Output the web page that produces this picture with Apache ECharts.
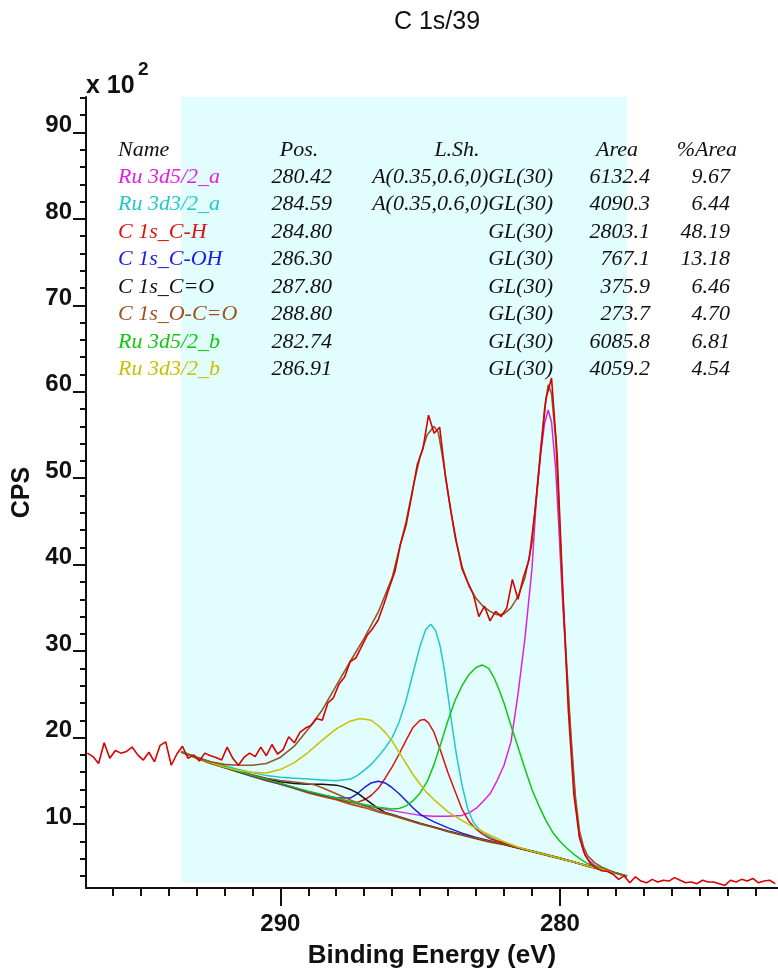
<!DOCTYPE html>
<html>
<head>
<meta charset="utf-8">
<title>C 1s/39</title>
<script src="https://cdn.jsdelivr.net/npm/echarts@6/dist/echarts.min.js"></script>
<style>
  html, body { margin: 0; padding: 0; background: #fff; }
  #chart { width: 778px; height: 975px; }
</style>
</head>
<body>
<div id="chart"></div>
<script>
// raw counts (x 10^2), regular energy grid from 296.9 eV going down
const rawStart = 296.9;
const rawStep = 0.2;
const rawCps = [
  18.2, 17.8, 17.0, 19.4, 17.6, 18.5, 18.2, 18.4, 18.9, 18.0,
  17.4, 18.3, 17.2, 19.1, 19.5, 16.8, 18.1, 19.0, 17.6, 18.0,
  17.3, 18.2, 17.9, 17.7, 17.4, 18.9, 17.6, 16.8, 17.7, 18.2,
  17.8, 18.9, 17.9, 19.2, 18.1, 18.6, 20.1, 19.4, 20.6, 21.1,
  21.4, 22.2, 22.0, 24.0, 24.6, 26.2, 27.0, 28.8, 29.2, 30.5,
  31.8, 32.6, 33.6, 35.4, 37.4, 39.2, 42.4, 44.6, 48.0, 51.6,
  53.4, 57.3, 55.2, 55.9, 50.4, 46.2, 42.6, 39.5, 38.0, 36.6,
  34.0, 35.2, 33.5, 34.6, 34.0, 35.0, 38.3, 36.0, 38.6, 40.6,
  46.0, 52.6, 59.2, 61.6, 52.8, 37.4, 23.2, 13.4, 8.4, 6.4,
  5.4, 4.9, 4.6, 4.5, 4.2, 3.6, 4.0, 3.2, 3.9, 3.4,
  3.2, 3.6, 3.3, 3.5, 3.4, 3.8, 3.5, 3.2, 3.3, 3.1,
  3.5, 3.3, 3.3, 3.1, 2.9, 3.5, 3.3, 3.6, 3.4, 3.7,
  3.2, 3.4, 3.5, 3.1
];

// fitted curves, [binding energy, cps x 10^2]
const background = [[293.55,18.3],[293,17.6],[292.5,17.0],[292,16.5],[291.5,16.0],[291,15.5],[290.5,15.0],[290,14.6],[289.5,14.1],[289,13.6],[288.5,13.2],[288,12.8],[287.5,12.3],[287,11.9],[286.5,11.4],[286,11.0],[285.5,10.5],[285,10.0],[284.5,9.6],[284,9.1],[283.5,8.7],[283,8.3],[282.5,7.9],[282,7.6],[281.5,7.2],[281,6.8],[280.5,6.4],[280,6.0],[279.5,5.6],[279,5.1],[278.5,4.7],[278,4.3],[277.6,3.9]];

const ru3d52a = [[293.55,18.35],[292,16.55],[291,15.55],[290,14.65],[289,13.7],[288,12.95],[287,12.15],[286,11.55],[285,11.0],[284.5,10.9],[284,10.9],[283.5,11.0],[283.25,11.3],[283,11.8],[282.75,12.6],[282.5,13.5],[282.25,15.0],[282,16.8],[281.75,19.5],[281.5,25.0],[281.25,31.5],[281,39.5],[280.85,47.2],[280.7,52.5],[280.55,56.3],[280.42,57.9],[280.3,56.5],[280.15,51.0],[280.05,45.0],[279.9,35.5],[279.75,27.5],[279.6,19.5],[279.45,12.8],[279.3,8.6],[279.15,6.8],[279,5.9],[278.75,5.2],[278.5,4.8],[278,4.35],[277.6,3.95]];

const ru3d32a = [[293.55,18.4],[292.5,17.2],[291.5,16.3],[290.5,15.6],[290,15.4],[289.5,15.3],[289,15.2],[288.5,15.1],[288,15.0],[287.5,15.2],[287.25,15.6],[287,16.2],[286.75,16.9],[286.5,17.8],[286.25,18.8],[286,20.0],[285.75,21.8],[285.5,24.3],[285.25,27.5],[285,30.6],[284.8,32.5],[284.62,33.1],[284.45,32.4],[284.3,30.8],[284.15,28.2],[284,24.8],[283.85,21.2],[283.7,18.0],[283.5,14.5],[283.3,11.8],[283.1,10.2],[282.9,9.4],[282.6,8.7],[282.2,8.0],[281.5,7.3],[281,6.9],[280,6.1],[279,5.15],[278,4.35],[277.6,3.95]];

const c1sCH = [[293.55,18.35],[292,16.55],[291,15.55],[290,14.65],[289,13.7],[288,12.9],[287.5,12.5],[287.25,12.5],[287,12.8],[286.75,13.3],[286.5,14.1],[286.25,15.3],[286,16.6],[285.75,18.1],[285.5,19.7],[285.25,21.2],[285,22.0],[284.85,22.1],[284.7,21.7],[284.5,20.6],[284.25,18.3],[284,15.9],[283.75,13.8],[283.5,11.7],[283.25,10.3],[283,9.4],[282.75,8.8],[282.5,8.3],[282,7.8],[281.5,7.3],[281,6.85],[280,6.05],[279,5.15],[278,4.35],[277.6,3.95]];

const c1sCOH = [[293.55,18.35],[292,16.55],[291,15.55],[290,14.65],[289,13.75],[288.5,13.35],[288,13.05],[287.5,13.0],[287.25,13.5],[287,14.2],[286.75,14.75],[286.5,14.95],[286.25,14.75],[286,14.2],[285.75,13.5],[285.5,12.7],[285.25,11.85],[285,11.15],[284.75,10.65],[284.5,10.25],[284,9.55],[283.5,8.95],[283,8.45],[282,7.65],[281,6.85],[280,6.05],[279,5.15],[278,4.35],[277.6,3.95]];

const c1sCO = [[293.55,18.35],[292.5,17.1],[291.5,16.1],[290.5,15.2],[290,14.9],[289.5,14.7],[289,14.6],[288.5,14.6],[288,14.5],[287.75,14.3],[287.5,14.0],[287.25,13.6],[287,13.0],[286.75,12.4],[286.5,11.8],[286.25,11.35],[286,11.1],[285.5,10.6],[285,10.1],[284,9.2],[283,8.35],[282,7.65],[281,6.85],[280,6.05],[279,5.15],[278,4.35],[277.6,3.95]];

const c1sOCO = [[293.55,18.35],[292,16.6],[291,15.7],[290.5,15.3],[290,15.05],[289.5,14.85],[289,14.65],[288.75,14.5],[288.5,14.2],[288,13.5],[287.5,12.8],[287,12.15],[286.5,11.55],[286,11.05],[285.5,10.55],[285,10.05],[284,9.15],[283,8.35],[282,7.65],[281,6.85],[280,6.05],[279,5.15],[278,4.35],[277.6,3.95]];

const ru3d52b = [[293.55,18.35],[292,16.6],[291,15.6],[290,14.7],[289,13.8],[288,13.0],[287.5,12.6],[287,12.25],[286.5,11.95],[286,11.75],[285.75,11.8],[285.5,12.1],[285.25,12.7],[285,13.6],[284.75,14.9],[284.5,16.9],[284.25,19.4],[284,22.0],[283.75,24.3],[283.5,26.0],[283.25,27.3],[283,28.1],[282.78,28.4],[282.55,28.0],[282.35,26.9],[282.15,25.3],[282,24.0],[281.75,21.4],[281.5,18.9],[281.25,16.4],[281,14.0],[280.75,12.1],[280.5,10.4],[280.25,9.0],[280,8.0],[279.75,7.2],[279.5,6.5],[279.25,5.9],[279,5.4],[278.5,4.85],[278,4.35],[277.6,3.95]];

const ru3d32b = [[293.55,18.4],[293,17.7],[292.5,17.1],[292,16.6],[291.5,16.2],[291,16.0],[290.5,15.9],[290,16.3],[289.5,17.1],[289,18.3],[288.5,19.7],[288,21.0],[287.5,21.9],[287.15,22.2],[286.75,22.0],[286.5,21.4],[286.25,20.6],[286,19.6],[285.75,18.3],[285.5,17.0],[285.25,15.7],[285,14.6],[284.75,13.6],[284.5,12.8],[284,11.4],[283.5,10.4],[283,9.5],[282.5,8.7],[282,7.95],[281.5,7.35],[281,6.85],[280,6.05],[279,5.15],[278,4.35],[277.6,3.95]];

const envelope = [[293.55,18.4],[293,17.7],[292.5,17.2],[292,16.9],[291.5,16.8],[291,16.8],[290.5,17.0],[290,17.7],[289.5,19.0],[289,21.0],[288.5,23.2],[288,26.0],[287.5,28.8],[287,31.5],[286.5,34.5],[286,38.5],[285.75,41.8],[285.5,45.0],[285.25,49.0],[285,52.5],[284.75,55.0],[284.5,56.0],[284.35,55.3],[284.2,52.5],[284,48.2],[283.75,43.2],[283.5,39.8],[283.25,37.5],[283,36.1],[282.75,35.2],[282.5,34.6],[282.25,34.2],[282,34.3],[281.75,35.0],[281.5,36.3],[281.25,38.5],[281,42.5],[280.85,47.5],[280.7,53.0],[280.55,58.0],[280.42,60.8],[280.3,59.8],[280.15,54.5],[280.05,47.5],[279.9,36.5],[279.75,28.0],[279.6,20.0],[279.45,13.3],[279.3,9.2],[279.15,7.3],[279,6.3],[278.75,5.5],[278.5,5.0],[278,4.35],[277.6,3.95]];

// fit region and axis ticks
const regionStart = 293.55;
const regionEnd = 277.6;
const xMajorTicks = [280, 290];
const xMinorTicks = [273, 274, 275, 276, 277, 278, 279, 281, 282, 283, 284, 285, 286, 287, 288, 289, 291, 292, 293, 294, 295, 296];
const yMajorTicks = [10, 20, 30, 40, 50, 60, 70, 80, 90];
const yMinorTicks = [4, 6, 8, 12, 14, 16, 18, 22, 24, 26, 28, 32, 34, 36, 38, 42, 44, 46, 48, 52, 54, 56, 58, 62, 64, 66, 68, 72, 74, 76, 78, 82, 84, 86, 88, 92, 94];

// peak table
const peakNames = ['Ru 3d5/2_a', 'Ru 3d3/2_a', 'C 1s_C-H', 'C 1s_C-OH', 'C 1s_C=O', 'C 1s_O-C=O', 'Ru 3d5/2_b', 'Ru 3d3/2_b'];
const peakPos = ['280.42', '284.59', '284.80', '286.30', '287.80', '288.80', '282.74', '286.91'];
const peakShape = ['A(0.35,0.6,0)GL(30)', 'A(0.35,0.6,0)GL(30)', 'GL(30)', 'GL(30)', 'GL(30)', 'GL(30)', 'GL(30)', 'GL(30)'];
const peakArea = ['6132.4', '4090.3', '2803.1', '767.1', '375.9', '273.7', '6085.8', '4059.2'];
const peakPct = ['9.67', '6.44', '48.19', '13.18', '6.46', '4.70', '6.81', '4.54'];
const peakColors = ['#e020e0', '#20c8cc', '#e01010', '#1a1ae6', '#111111', '#a0501e', '#10c810', '#c8c000'];
const peakCurves = [ru3d52a, ru3d32a, c1sCH, c1sCOH, c1sCO, c1sOCO, ru3d52b, ru3d32b];

const rawData = rawCps.map((v, i) => [+(rawStart - i * rawStep).toFixed(2), v]);

const chart = echarts.init(document.getElementById('chart'), null, { renderer: 'canvas' });

const tableFont = 'italic 22px "Liberation Serif", "Times New Roman", serif';
const textEl = (text, x, y, font, align, color) => ({
  type: 'text',
  x: x,
  y: y,
  z: 100,
  silent: true,
  style: {
    text: text,
    font: font,
    fill: color,
    align: align,
    textAlign: align,
    verticalAlign: 'middle',
    textVerticalAlign: 'middle'
  }
});

const graphics = [
  textEl('C 1s/39', 437, 22, '25px "Liberation Sans", Arial, sans-serif', 'center', '#111'),
  textEl('x 10', 86, 86, 'bold 25px "Liberation Sans", Arial, sans-serif', 'left', '#111'),
  textEl('2', 138, 70, 'bold 19px "Liberation Sans", Arial, sans-serif', 'left', '#111'),
  textEl('Name', 118, 150, tableFont, 'left', '#111'),
  textEl('Pos.', 299, 150, tableFont, 'center', '#111'),
  textEl('L.Sh.', 457, 150, tableFont, 'center', '#111'),
  textEl('Area', 638, 150, tableFont, 'right', '#111'),
  textEl('%Area', 737, 150, tableFont, 'right', '#111')
];
peakNames.forEach((name, i) => {
  const y = 177 + i * 27.5;
  graphics.push(textEl(name, 118, y, tableFont, 'left', peakColors[i]));
  graphics.push(textEl(peakPos[i], 332, y, tableFont, 'right', '#111'));
  graphics.push(textEl(peakShape[i], 553, y, tableFont, 'right', '#111'));
  graphics.push(textEl(peakArea[i], 650, y, tableFont, 'right', '#111'));
  graphics.push(textEl(peakPct[i], 730, y, tableFont, 'right', '#111'));
});

const axisFont = { fontFamily: '"Liberation Sans", Arial, sans-serif', fontWeight: 'bold', fontSize: 24, color: '#111' };

const series = [
  {
    name: 'region',
    type: 'line',
    data: [],
    z: 1,
    silent: true,
    markArea: {
      silent: true,
      itemStyle: { color: '#e2fdfd' },
      data: [[{ xAxis: regionStart, yAxis: 3.2 }, { xAxis: regionEnd, yAxis: 95 }]]
    }
  },
  {
    name: 'Background',
    type: 'line',
    data: background,
    z: 3,
    showSymbol: false,
    lineStyle: { color: '#9a5a22', width: 1.6 }
  }
];
peakCurves.forEach((curve, i) => {
  series.push({
    name: peakNames[i],
    type: 'line',
    data: curve,
    z: 4,
    showSymbol: false,
    lineStyle: { color: peakColors[i], width: 1.5 }
  });
});
series.push({
  name: 'Envelope',
  type: 'line',
  data: envelope,
  z: 5,
  showSymbol: false,
  lineStyle: { color: '#8c5a28', width: 1.6 }
});
series.push({
  name: 'Raw',
  type: 'line',
  data: rawData,
  z: 6,
  showSymbol: false,
  lineStyle: { color: '#d80000', width: 1.6 }
});

chart.setOption({
  animation: false,
  backgroundColor: '#ffffff',
  grid: { left: 86, right: 0, top: 97, bottom: 87, containLabel: false, outerBoundsMode: 'none' },
  xAxis: [
    {
      type: 'value',
      inverse: true,
      min: 272.2,
      max: 296.95,
      position: 'bottom',
      axisLine: { show: true, lineStyle: { color: '#111', width: 2 } },
      axisTick: { show: true, length: 18, customValues: xMajorTicks, lineStyle: { color: '#111', width: 2 } },
      axisLabel: { show: true, customValues: xMajorTicks, margin: 24, ...axisFont },
      splitLine: { show: false },
      name: 'Binding Energy (eV)',
      nameLocation: 'middle',
      nameGap: 55,
      nameTextStyle: { fontFamily: '"Liberation Sans", Arial, sans-serif', fontWeight: 'bold', fontSize: 26, color: '#111' }
    },
    {
      type: 'value',
      inverse: true,
      min: 272.2,
      max: 296.95,
      position: 'bottom',
      offset: 0,
      axisLine: { show: false },
      axisTick: { show: true, length: 8, customValues: xMinorTicks, lineStyle: { color: '#111', width: 2 } },
      axisLabel: { show: false },
      splitLine: { show: false }
    }
  ],
  yAxis: [
    {
      type: 'value',
      min: 2.6,
      max: 94.1,
      position: 'left',
      axisLine: { show: true, lineStyle: { color: '#111', width: 2 } },
      axisTick: { show: true, length: 13, customValues: yMajorTicks, lineStyle: { color: '#111', width: 2 } },
      axisLabel: { show: true, customValues: yMajorTicks, margin: 14, verticalAlign: 'bottom', lineHeight: 14, ...axisFont },
      splitLine: { show: false },
      name: 'CPS',
      nameLocation: 'middle',
      nameRotate: 90,
      nameGap: 50,
      nameTextStyle: { fontFamily: '"Liberation Sans", Arial, sans-serif', fontWeight: 'bold', fontSize: 25, color: '#111' }
    },
    {
      type: 'value',
      min: 2.6,
      max: 94.1,
      position: 'left',
      offset: 0,
      axisLine: { show: false },
      axisTick: { show: true, length: 6, customValues: yMinorTicks, lineStyle: { color: '#111', width: 2 } },
      axisLabel: { show: false },
      splitLine: { show: false }
    }
  ],
  graphic: graphics,
  series: series
});
</script>
</body>
</html>
